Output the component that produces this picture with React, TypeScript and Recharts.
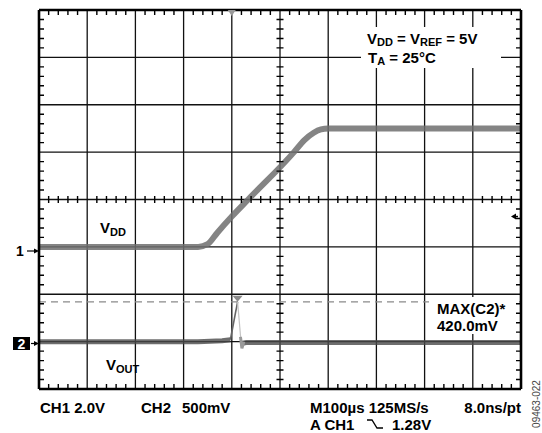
import {
  ComposedChart,
  Line,
  XAxis,
  YAxis,
  ReferenceLine,
  ReferenceDot,
} from "recharts";

// time in µs (M = 100µs/div), CH1 = 2.0V/div, CH2 = 500mV/div
const vddTime = [0, 330, 350, 370, 400, 434, 529, 550, 570, 585, 600, 1000];
const vddVolts = [0, 0, 0.12, 0.6, 1.28, 2.0, 4.0, 4.5, 4.82, 4.96, 5.0, 5.0];

const voutTime = [0, 330, 380, 397];
const voutVolts = [0, 0, 0.01, 0.02];
const voutAfterTime = [419, 430, 1000];
const voutAfterVolts = [-0.02, -0.01, -0.01];
const spikeTime = [397, 412];
const spikeVolts = [0.02, 0.42];
const fallTime = [412, 420];
const fallVolts = [0.42, -0.05];
const blipTime = [418, 421, 425];
const blipVolts = [0.05, -0.07, 0.0];

const maxC2 = 0.42;
const triggerTime = 400;
const triggerLevel = 1.28;

// graticule: 10 x 8 divisions, 5 minor ticks per division
const timeDivs = [0, 100, 200, 300, 400, 500, 600, 700, 800, 900, 1000];
const voltDivs = [-4, -3, -2, -1, 0, 1, 2, 3, 4];
const minorTimes: number[] = [];
for (let t = 20; t < 1000; t += 20) if (t % 100 !== 0) minorTimes.push(t);
const minorDivs: number[] = [];
for (let i = -19; i <= 19; i++) if (i % 5 !== 0) minorDivs.push(i / 5);

// plot box (matches the chart margins below)
const PLOT = { left: 39, top: 10, width: 482, height: 379 };
const gx = (t: number) => PLOT.left + (t / 1000) * PLOT.width;
const gy = (d: number) => PLOT.top + ((4 - d) / 8) * PLOT.height;

// screen divisions -> CH2 volts (CH2 ground sits 3 divisions below centre)
const div = (d: number) => (d + 3) * 0.5;

const toPoints = (ts: number[], vs: number[]) =>
  ts.map((t, i) => ({ t, v: vs[i] }));

const vddData = toPoints(vddTime, vddVolts);
const voutData = toPoints(voutTime, voutVolts);
const voutAfterData = toPoints(voutAfterTime, voutAfterVolts);
const spikeData = toPoints(spikeTime, spikeVolts);
const fallData = toPoints(fallTime, fallVolts);
const blipData = toPoints(blipTime, blipVolts);

const FONT = "'Liberation Sans', Arial, sans-serif";

const DownTriangle = (props: any) => {
  const { cx, cy } = props;
  return (
    <path
      d={`M${cx - 5},${cy - 6} L${cx + 5},${cy - 6} L${cx},${cy} Z`}
      fill="#8a8a8a"
    />
  );
};

const TopMarker = (props: any) => {
  const { cx, cy } = props;
  return (
    <path
      d={`M${cx - 4},${cy} L${cx + 4},${cy} L${cx},${cy + 6} Z`}
      fill="#9a9a9a"
    />
  );
};

const LevelArrow = (props: any) => {
  const { cx, cy } = props;
  return (
    <g>
      <path d={`M${cx - 10},${cy} L${cx - 5},${cy - 3} L${cx - 5},${cy + 3} Z`} fill="#000" />
      <line x1={cx - 6} y1={cy} x2={cx - 3} y2={cy} stroke="#000" strokeWidth={1.5} />
    </g>
  );
};

// minor graticule ticks along the frame and the centre axes
const tickPath = [
  ...minorTimes.map((t) => `M${gx(t)},${gy(4)} v5`),
  ...minorTimes.map((t) => `M${gx(t)},${gy(-4)} v-5`),
  ...minorTimes.map((t) => `M${gx(t)},${gy(0) - 3.5} v7`),
  ...minorDivs.map((d) => `M${gx(0)},${gy(d)} h5`),
  ...minorDivs.map((d) => `M${gx(1000)},${gy(d)} h-5`),
  ...minorDivs.map((d) => `M${gx(500) - 3.5},${gy(d)} h7`),
].join(" ");

export default function App() {
  return (
    <div
      style={{
        position: "absolute",
        left: 0,
        top: 0,
        width: 542,
        height: 433,
        background: "#fff",
      }}
    >
      <ComposedChart
        width={542}
        height={433}
        margin={{ top: PLOT.top, right: 542 - PLOT.left - PLOT.width, bottom: 433 - PLOT.top - PLOT.height, left: PLOT.left }}
      >
        <XAxis type="number" dataKey="t" domain={[0, 1000]} hide />
        <YAxis yAxisId="ch1" type="number" domain={[-6, 10]} hide />
        <YAxis yAxisId="ch2" type="number" domain={[-0.5, 3.5]} hide />

        {timeDivs.slice(1, -1).map((t) => (
          <ReferenceLine key={`vx-${t}`} yAxisId="ch2" x={t} stroke="#111" strokeWidth={1.3} />
        ))}
        {voltDivs.slice(1, -1).map((d) => (
          <ReferenceLine key={`hy-${d}`} yAxisId="ch2" y={div(d)} stroke="#111" strokeWidth={1.3} />
        ))}

        <ReferenceLine
          yAxisId="ch2"
          y={maxC2}
          stroke="#8a8a8a"
          strokeWidth={1.3}
          strokeDasharray="7 5"
        />

        <Line
          yAxisId="ch1"
          data={vddData}
          dataKey="v"
          type="monotone"
          stroke="#6e6e6e"
          strokeOpacity={0.85}
          strokeWidth={6}
          dot={false}
          isAnimationActive={false}
        />
        <Line
          yAxisId="ch2"
          data={voutData}
          dataKey="v"
          type="linear"
          stroke="#4a4a4a"
          strokeOpacity={0.8}
          strokeWidth={5}
          dot={false}
          isAnimationActive={false}
        />
        <Line
          yAxisId="ch2"
          data={voutAfterData}
          dataKey="v"
          type="linear"
          stroke="#4a4a4a"
          strokeOpacity={0.8}
          strokeWidth={5}
          dot={false}
          isAnimationActive={false}
        />
        <Line
          yAxisId="ch2"
          data={spikeData}
          dataKey="v"
          type="linear"
          stroke="#666"
          strokeWidth={1.6}
          dot={false}
          isAnimationActive={false}
        />
        <Line
          yAxisId="ch2"
          data={fallData}
          dataKey="v"
          type="linear"
          stroke="#c4c4c4"
          strokeWidth={1.2}
          dot={false}
          isAnimationActive={false}
        />
        <Line
          yAxisId="ch2"
          data={blipData}
          dataKey="v"
          type="linear"
          stroke="#9a9a9a"
          strokeWidth={3}
          dot={false}
          isAnimationActive={false}
        />

        {[0, 1000].map((t) => (
          <ReferenceLine key={`fx-${t}`} yAxisId="ch2" x={t} stroke="#000" strokeWidth={2.6} />
        ))}
        {[-4, 4].map((d) => (
          <ReferenceLine key={`fy-${d}`} yAxisId="ch2" y={div(d)} stroke="#000" strokeWidth={2.6} />
        ))}

        <ReferenceDot
          yAxisId="ch2"
          x={triggerTime}
          y={div(4)}
          r={0}
          shape={<TopMarker />}
        />
        <ReferenceDot
          yAxisId="ch2"
          x={spikeTime[1]}
          y={maxC2}
          r={0}
          shape={<DownTriangle />}
        />
        <ReferenceDot
          yAxisId="ch1"
          x={1000}
          y={triggerLevel}
          r={0}
          shape={<LevelArrow />}
        />
      </ComposedChart>

      <svg
        width={542}
        height={433}
        style={{ position: "absolute", left: 0, top: 0, pointerEvents: "none" }}
        fontFamily={FONT}
        fontWeight="bold"
        fontSize={15}
      >
        <path d={tickPath} stroke="#000" strokeWidth={1.4} fill="none" />

        <rect x={361} y={27} width={140} height={41} fill="#fff" />
        <text x={367} y={44}>
          <tspan>V</tspan>
          <tspan fontSize={11} dy={2}>DD</tspan>
          <tspan dy={-2}> = V</tspan>
          <tspan fontSize={11} dy={2}>REF</tspan>
          <tspan dy={-2}> = 5V</tspan>
        </text>
        <text x={368} y={63}>
          <tspan>T</tspan>
          <tspan fontSize={11} dy={2}>A</tspan>
          <tspan dy={-2}> = 25°C</tspan>
        </text>

        <rect x={429} y={297} width={87} height={37} fill="#fff" />
        <text x={437} y={314}>MAX(C2)*</text>
        <text x={437} y={331}>420.0mV</text>

        <text x={100} y={233}>
          <tspan>V</tspan>
          <tspan fontSize={11} dy={3}>DD</tspan>
        </text>
        <text x={106} y={370}>
          <tspan>V</tspan>
          <tspan fontSize={11} dy={3}>OUT</tspan>
        </text>

        <text x={16} y={256} fontSize={14}>1</text>
        <line x1={27} y1={251} x2={35} y2={251} stroke="#000" strokeWidth={1.2} />
        <path d="M39,251 L34,248.5 L34,253.5 Z" fill="#000" />

        <rect x={13} y={337} width={17} height={13} fill="#000" />
        <text x={21.5} y={348.5} fontSize={14} fill="#fff" textAnchor="middle">2</text>
        <line x1={31} y1={343.5} x2={35} y2={343.5} stroke="#000" strokeWidth={1.2} />
        <path d="M39,343.5 L34,341 L34,346 Z" fill="#000" />

        <text x={40} y={413}>CH1 2.0V</text>
        <text x={141} y={413}>CH2</text>
        <text x={182} y={413}>500mV</text>
        <text x={310} y={413}>M100µs 125MS/s</text>
        <text x={521} y={413} textAnchor="end">8.0ns/pt</text>
        <text x={310} y={430}>A CH1</text>
        <path d="M367,420 H372 L377,428 H383" fill="none" stroke="#000" strokeWidth={1.3} />
        <text x={392} y={430}>1.28V</text>

        <text
          transform="translate(540,404) rotate(-90)"
          textAnchor="middle"
          fontSize={10}
          fontWeight="normal"
          fill="#444"
        >
          09463-022
        </text>
      </svg>
    </div>
  );
}
